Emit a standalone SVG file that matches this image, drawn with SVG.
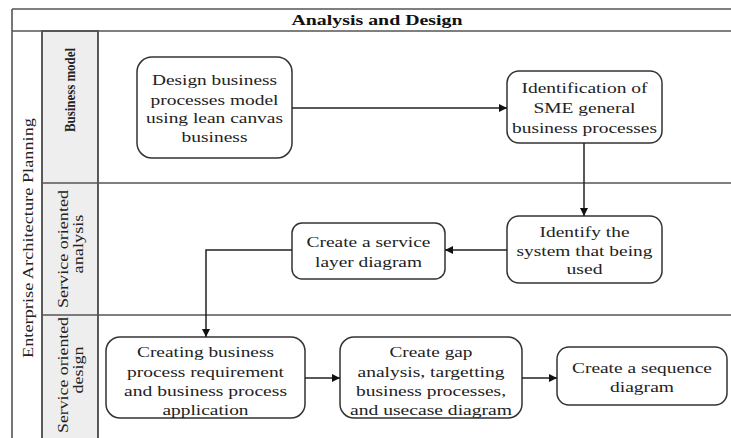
<svg xmlns="http://www.w3.org/2000/svg" width="731" height="438" viewBox="0 0 731 438">
<style>
.frame{stroke:#555;stroke-width:1.6;fill:none}
.hdr{fill:#eeeeee;stroke:#333;stroke-width:1.6}
.box{fill:#fff;stroke:#333;stroke-width:1.5}
text{font-family:'Liberation Serif','DejaVu Serif','Times New Roman',serif}
.t{font-size:15px;fill:#222;text-anchor:middle}
.vt{font-size:14px;fill:#222;text-anchor:middle}
.title{font-size:15px;font-weight:bold;fill:#111;text-anchor:middle}
.c{stroke:#222;stroke-width:1.5;fill:none;marker-end:url(#ah)}
</style>
<defs>
<marker id="ah" viewBox="0 0 10 10" refX="10" refY="5" markerWidth="8" markerHeight="8" markerUnits="userSpaceOnUse" orient="auto">
<path d="M0,0 L10,5 L0,10 z" fill="#111"/>
</marker>
</defs>
<rect width="731" height="438" fill="#fff"/>
<g id="frame" font-family="Liberation Serif, DejaVu Serif, serif">
<rect x="42" y="31" width="56" height="410" class="hdr"/>
<line x1="12" y1="9" x2="731" y2="9" class="frame"/>
<line x1="12" y1="31" x2="731" y2="31" class="frame"/>
<line x1="12" y1="9" x2="12" y2="438" class="frame"/>
<line x1="42" y1="183" x2="731" y2="183" class="frame"/>
<line x1="42" y1="315" x2="731" y2="315" class="frame"/>
<text class="title" x="377" y="25" textLength="171" lengthAdjust="spacingAndGlyphs">Analysis and Design</text>
<text class="vt" transform="translate(33,238) rotate(-90)" textLength="240" lengthAdjust="spacingAndGlyphs">Enterprise Architecture Planning</text>
</g>
<g id="lane-business-model" font-family="Liberation Serif, DejaVu Serif, serif">
<text class="vt" font-weight="bold" transform="translate(75,90) rotate(-90)" textLength="84" lengthAdjust="spacingAndGlyphs">Business model</text>
</g>
<g id="lane-service-oriented-analysis" font-family="Liberation Serif, DejaVu Serif, serif">
<text class="vt" transform="translate(68,249) rotate(-90)" textLength="118" lengthAdjust="spacingAndGlyphs">Service oriented</text>
<text class="vt" transform="translate(83,244) rotate(-90)" textLength="59" lengthAdjust="spacingAndGlyphs">analysis</text>
</g>
<g id="lane-service-oriented-design" font-family="Liberation Serif, DejaVu Serif, serif">
<text class="vt" transform="translate(68,375) rotate(-90)" textLength="116" lengthAdjust="spacingAndGlyphs">Service oriented</text>
<text class="vt" transform="translate(83,370) rotate(-90)" textLength="47" lengthAdjust="spacingAndGlyphs">design</text>
</g>
<g id="n1" font-family="Liberation Serif, DejaVu Serif, serif">
<rect x="137" y="57" width="155" height="101" rx="15" class="box"/>
<text class="t" x="214.5" y="85" textLength="125" lengthAdjust="spacingAndGlyphs">Design business</text>
<text class="t" x="214.5" y="105" textLength="128" lengthAdjust="spacingAndGlyphs">processes model</text>
<text class="t" x="214.5" y="123" textLength="137" lengthAdjust="spacingAndGlyphs">using lean canvas</text>
<text class="t" x="214.5" y="142" textLength="66" lengthAdjust="spacingAndGlyphs">business</text>
</g>
<g id="n2" font-family="Liberation Serif, DejaVu Serif, serif">
<rect x="507" y="71" width="155" height="72" rx="12" class="box"/>
<text class="t" x="584.5" y="93" textLength="126" lengthAdjust="spacingAndGlyphs">Identification of</text>
<text class="t" x="584.5" y="113" textLength="102" lengthAdjust="spacingAndGlyphs">SME general</text>
<text class="t" x="584.5" y="133" textLength="145" lengthAdjust="spacingAndGlyphs">business processes</text>
</g>
<g id="n3" font-family="Liberation Serif, DejaVu Serif, serif">
<rect x="507" y="216" width="155" height="67" rx="12" class="box"/>
<text class="t" x="584.5" y="237" textLength="90" lengthAdjust="spacingAndGlyphs">Identify the</text>
<text class="t" x="584.5" y="256" textLength="136" lengthAdjust="spacingAndGlyphs">system that being</text>
<text class="t" x="584.5" y="274" textLength="36" lengthAdjust="spacingAndGlyphs">used</text>
</g>
<g id="n4" font-family="Liberation Serif, DejaVu Serif, serif">
<rect x="292" y="223" width="153" height="56" rx="10" class="box"/>
<text class="t" x="368.5" y="247" textLength="124" lengthAdjust="spacingAndGlyphs">Create a service</text>
<text class="t" x="368.5" y="267" textLength="107" lengthAdjust="spacingAndGlyphs">layer diagram</text>
</g>
<g id="n5" font-family="Liberation Serif, DejaVu Serif, serif">
<rect x="106" y="337" width="199" height="81" rx="14" class="box"/>
<text class="t" x="205.5" y="357" textLength="137" lengthAdjust="spacingAndGlyphs">Creating business</text>
<text class="t" x="205.5" y="377" textLength="157" lengthAdjust="spacingAndGlyphs">process requirement</text>
<text class="t" x="205.5" y="396" textLength="163" lengthAdjust="spacingAndGlyphs">and business process</text>
<text class="t" x="205.5" y="415" textLength="86" lengthAdjust="spacingAndGlyphs">application</text>
</g>
<g id="n6" font-family="Liberation Serif, DejaVu Serif, serif">
<rect x="340" y="337" width="182" height="81" rx="14" class="box"/>
<text class="t" x="431" y="357" textLength="83" lengthAdjust="spacingAndGlyphs">Create gap</text>
<text class="t" x="431" y="377" textLength="147" lengthAdjust="spacingAndGlyphs">analysis, targetting</text>
<text class="t" x="431" y="396" textLength="150" lengthAdjust="spacingAndGlyphs">business processes,</text>
<text class="t" x="431" y="415" textLength="162" lengthAdjust="spacingAndGlyphs">and usecase diagram</text>
</g>
<g id="n7" font-family="Liberation Serif, DejaVu Serif, serif">
<rect x="557" y="347" width="170" height="58" rx="12" class="box"/>
<text class="t" x="642" y="373" textLength="140" lengthAdjust="spacingAndGlyphs">Create a sequence</text>
<text class="t" x="642" y="392" textLength="64" lengthAdjust="spacingAndGlyphs">diagram</text>
</g>
<g id="connectors">
<path class="c" d="M292,108 L507,108"/>
<path class="c" d="M584,143 L584,216"/>
<path class="c" d="M507,250 L445,250"/>
<path class="c" d="M292,250 L206,250 L206,337"/>
<path class="c" d="M305,378 L340,378"/>
<path class="c" d="M522,378 L557,378"/>
</g>
</svg>
